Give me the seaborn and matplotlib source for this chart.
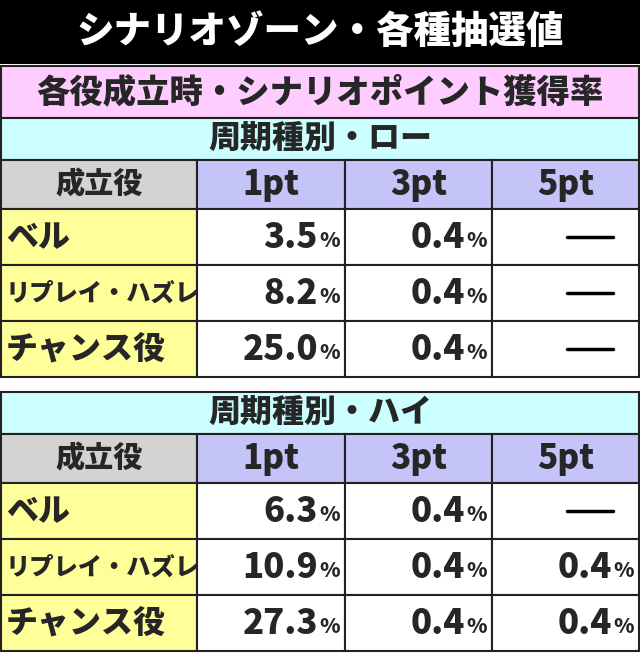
import matplotlib
matplotlib.use("Agg")
import matplotlib.pyplot as plt
import seaborn as sns
from matplotlib.patches import Rectangle

sns.set_theme(style="white")
plt.rcParams['font.family'] = ['Noto Sans CJK JP', 'DejaVu Sans']

title = "シナリオゾーン・各種抽選値"
subtitle = "各役成立時・シナリオポイント獲得率"
sections = ["周期種別・ロー", "周期種別・ハイ"]
col_headers = ["成立役", "1pt", "3pt", "5pt"]
roles = ["ベル", "リプレイ・ハズレ", "チャンス役"]
low_1pt = ["3.5", "8.2", "25.0"]
low_3pt = ["0.4", "0.4", "0.4"]
low_5pt = [None, None, None]
high_1pt = ["6.3", "10.9", "27.3"]
high_3pt = ["0.4", "0.4", "0.4"]
high_5pt = [None, "0.4", "0.4"]

W = 'heavy'
fig = plt.figure(figsize=(6.4, 6.54), dpi=100)
ax = fig.add_axes([0, 0, 1, 1])
ax.set_xlim(0, 640); ax.set_ylim(654, 0); ax.axis('off')

def box(x0, y0, x1, y1, fc, lw=1.5):
    ax.add_patch(Rectangle((x0, y0), x1 - x0, y1 - y0, facecolor=fc, edgecolor='#222222', lw=lw))

ax.add_patch(Rectangle((0, 0), 640, 64, facecolor='black', edgecolor='none'))
ax.text(320, 32, title, color='white', fontsize=27, fontweight=W, ha='center', va='center')
box(1, 66, 639, 118, '#ffccff')
ax.text(320, 92, subtitle, fontsize=24, fontweight=W, ha='center', va='center')

cols = [1, 197, 345, 492, 639]
def table(ytop, name, c1, c3, c5):
    box(1, ytop, 639, ytop + 42, '#ccffff')
    ax.text(320, ytop + 21, name, fontsize=23, fontweight=W, ha='center', va='center')
    hy = ytop + 42
    for i, h in enumerate(col_headers):
        box(cols[i], hy, cols[i + 1], hy + 49, '#d3d3d3' if i == 0 else '#c4c4f8')
        ax.text((cols[i] + cols[i + 1]) / 2, hy + 25, h, fontsize=24 if i else 21,
                fontweight=W, ha='center', va='center')
    y = hy + 49
    for r, role in enumerate(roles):
        h = 56
        box(cols[0], y, cols[1], y + h, '#ffff99')
        ax.text(6, y + h / 2, role, fontsize=17.5 if len(role) > 5 else 23,
                fontweight=W, ha='left', va='center')
        for ci, vals in enumerate([c1, c3, c5]):
            x0, x1 = cols[ci + 1], cols[ci + 2]
            box(x0, y, x1, y + h, 'white')
            v = vals[r]
            if v is None:
                ax.plot([x1 - 72, x1 - 26], [y + h / 2, y + h / 2], color='black', lw=2.5)
            else:
                ax.text(x1 - 27, y + h / 2, v, fontsize=25, fontweight=W, ha='right', va='center')
                ax.text(x1 - 5, y + h / 2 + 4, "%", fontsize=15, fontweight=W, ha='right', va='center')
        y += h

table(118, sections[0], low_1pt, low_3pt, low_5pt)
table(392, sections[1], high_1pt, high_3pt, high_5pt)
fig.savefig("out.png", dpi=100)
